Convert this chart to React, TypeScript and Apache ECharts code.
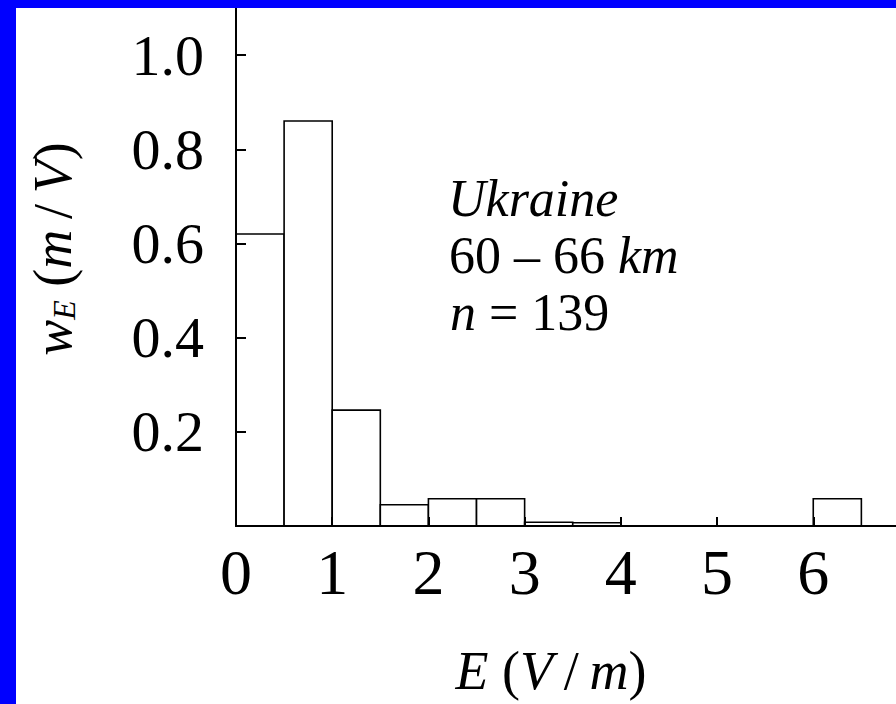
import React, { useEffect, useRef } from "react";
import * as echarts from "echarts";

// Histogram bins: [left edge, right edge]
const binLeft = [0, 0.5, 1, 1.5, 2, 2.5, 3, 3.5, 4, 4.5, 5, 5.5, 6];
const binRight = [0.5, 1, 1.5, 2, 2.5, 3, 3.5, 4, 4.5, 5, 5.5, 6, 6.5];
// Probability density w_E (m/V)
const density = [0.62, 0.86, 0.246, 0.045, 0.058, 0.058, 0.008, 0.007, 0, 0, 0, 0, 0.058];

const xTicks = [0, 1, 2, 3, 4, 5, 6];
const yTicks = [0.2, 0.4, 0.6, 0.8, 1.0];

const FONT = "Liberation Serif";

export default function App() {
  const ref = useRef<HTMLDivElement>(null);

  useEffect(() => {
    document.body.style.margin = "0";
    if (!ref.current) return;
    const chart = echarts.init(ref.current, undefined, { renderer: "svg" });

    const data = binLeft.map((l, i) => [l, binRight[i], density[i]]);

    const option: any = {
      animation: false,
      backgroundColor: "#ffffff",
      grid: { left: 236, top: 8, right: 0, bottom: 178, containLabel: false },
      xAxis: {
        type: "value",
        min: 0,
        max: 6.86,
        interval: 1,
        z: 5,
        splitLine: { show: false },
        axisLine: { show: true, onZero: false, lineStyle: { color: "#000", width: 2 } },
        axisTick: { show: true, inside: true, length: 9, customValues: xTicks, lineStyle: { color: "#000", width: 2 } },
        axisLabel: {
          show: true,
          margin: 14,
          color: "#000",
          fontFamily: FONT,
          fontSize: 64,
          customValues: xTicks,
          formatter: (v: number) => String(v),
        },
      },
      yAxis: {
        type: "value",
        min: 0,
        max: 1.1,
        interval: 0.2,
        z: 5,
        splitLine: { show: false },
        axisLine: { show: true, onZero: false, lineStyle: { color: "#000", width: 2 } },
        axisTick: { show: true, inside: true, length: 10, customValues: yTicks, lineStyle: { color: "#000", width: 2 } },
        axisLabel: {
          show: true,
          margin: 32,
          color: "#000",
          fontFamily: FONT,
          fontSize: 58,
          customValues: yTicks,
          formatter: (v: number) => v.toFixed(1),
        },
      },
      series: [
        {
          type: "custom",
          z: 2,
          data,
          encode: { x: [0, 1], y: 2 },
          renderItem: (params: any, api: any) => {
            const x0 = api.value(0);
            const x1 = api.value(1);
            const y = api.value(2);
            if (y <= 0) return null;
            const p0 = api.coord([x0, y]);
            const p1 = api.coord([x1, 0]);
            return {
              type: "rect",
              shape: { x: p0[0], y: p0[1], width: p1[0] - p0[0], height: p1[1] - p0[1] },
              style: { fill: "#ffffff", stroke: "#000000", lineWidth: 1.6 },
            };
          },
        },
      ],
      graphic: [
        { type: "rect", z: 100, shape: { x: 0, y: 0, width: 16, height: 704 }, style: { fill: "#0000ff" } },
        { type: "rect", z: 100, shape: { x: 0, y: 0, width: 896, height: 8 }, style: { fill: "#0000ff" } },
        {
          type: "text",
          z: 50,
          x: 53,
          y: 249,
          rotation: Math.PI / 2,
          style: {
            text: "{i|w}{sub|E} ({i|m}\u2009/\u2009{i|V})",
            fontFamily: FONT,
            fontSize: 54,
            fill: "#000000",
            align: "center",
            verticalAlign: "middle",
            rich: {
              i: { fontFamily: FONT, fontSize: 54, fontStyle: "italic", fill: "#000000" },
              sub: { fontFamily: FONT, fontSize: 32, fontStyle: "italic", fill: "#000000", padding: [22, 0, 0, 0] },
            },
          },
        },
        {
          type: "text",
          z: 50,
          x: 551,
          y: 671,
          style: {
            text: "{i|E} ({i|V}\u2009/\u2009{i|m})",
            fontFamily: FONT,
            fontSize: 54,
            fill: "#000000",
            align: "center",
            verticalAlign: "middle",
            rich: {
              i: { fontFamily: FONT, fontSize: 54, fontStyle: "italic", fill: "#000000" },
            },
          },
        },
        {
          type: "text",
          z: 50,
          x: 448,
          y: 172,
          style: {
            text: "Ukraine",
            fontFamily: FONT,
            fontSize: 52,
            fontStyle: "italic",
            fill: "#000000",
            align: "left",
            verticalAlign: "top",
          },
        },
        {
          type: "text",
          z: 50,
          x: 449,
          y: 229,
          style: {
            text: "60 \u2013 66 {i|km}",
            fontFamily: FONT,
            fontSize: 52,
            fill: "#000000",
            align: "left",
            verticalAlign: "top",
            rich: { i: { fontFamily: FONT, fontSize: 52, fontStyle: "italic", fill: "#000000" } },
          },
        },
        {
          type: "text",
          z: 50,
          x: 450,
          y: 286,
          style: {
            text: "{i|n} = 139",
            fontFamily: FONT,
            fontSize: 52,
            fill: "#000000",
            align: "left",
            verticalAlign: "top",
            rich: { i: { fontFamily: FONT, fontSize: 52, fontStyle: "italic", fill: "#000000" } },
          },
        },
      ],
    };

    chart.setOption(option);
    return () => chart.dispose();
  }, []);

  return <div ref={ref} style={{ width: 896, height: 704 }} />;
}
